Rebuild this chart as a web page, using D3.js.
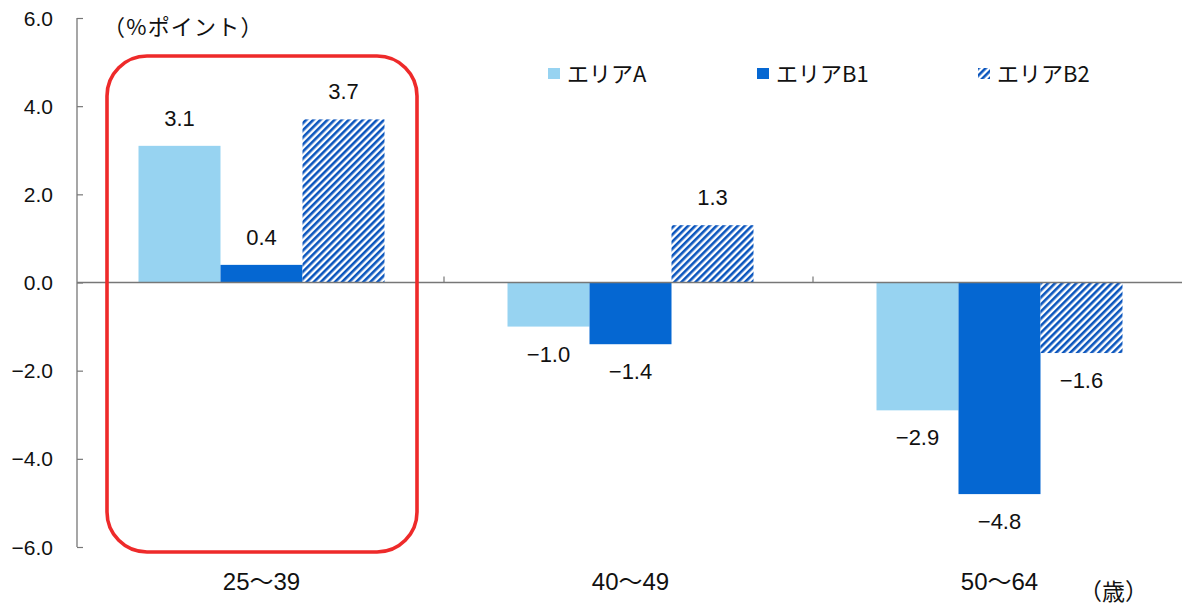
<!DOCTYPE html>
<html>
<head>
<meta charset="utf-8">
<script src="https://cdn.jsdelivr.net/npm/d3@7"></script>
<style>
  html, body { margin: 0; padding: 0; background: #fff; }
  svg { display: block; }
  text { font-family: "Liberation Sans", Arial, "Noto Sans CJK JP", sans-serif; fill: #111; }
  .jp { font-family: "Noto Sans CJK JP", sans-serif; }
</style>
</head>
<body>
<script>
// Age groups and the three areas' change (percentage points)
const categories = ["25～39", "40～49", "50～64"];
const seriesNames = ["エリアA", "エリアB1", "エリアB2"];
const areaA  = [3.1, -1.0, -2.9];
const areaB1 = [0.4, -1.4, -4.8];
const areaB2 = [3.7, 1.3, -1.6];
const yTicks = [-6, -4, -2, 0, 2, 4, 6];

const W = 1182, H = 609;
const svg = d3.select("body").append("svg").attr("width", W).attr("height", H);

const defs = svg.append("defs");
const hatch = defs.append("pattern")
  .attr("id", "hatchB2")
  .attr("patternUnits", "userSpaceOnUse")
  .attr("width", 5).attr("height", 5)
  .attr("patternTransform", "rotate(45)");
hatch.append("rect").attr("width", 5).attr("height", 5).attr("fill", "#fff");
hatch.append("rect").attr("x", 0).attr("y", 0).attr("width", 2.6).attr("height", 5).attr("fill", "#0a55bd");

const colors = ["#97d3f1", "#0567d2", "url(#hatchB2)"];
const seriesValues = [areaA, areaB1, areaB2];

const y = d3.scaleLinear().domain([-6, 6]).range([547, 18]);
const x = d3.scaleBand().domain(categories).range([77, 1184]).paddingInner(0).paddingOuter(0);
const xs = d3.scaleBand().domain(seriesNames).range([0, x.bandwidth()]).paddingInner(0).paddingOuter(0.75);

// y axis
const yAxis = d3.axisRight(y).tickValues(yTicks).tickSize(6).tickFormat("");
const yg = svg.append("g").attr("transform", "translate(77,0)").call(yAxis);
yg.select(".domain").attr("stroke", "#777").attr("stroke-width", 1.3).attr("d", `M0,${y(6)}V${y(-6)}`);
yg.selectAll(".tick line").attr("stroke", "#777").attr("stroke-width", 1.2);

svg.append("g").selectAll("text").data(yTicks).join("text")
  .attr("x", 53).attr("y", d => y(d)).attr("dy", "0.36em")
  .attr("text-anchor", "end").attr("font-size", 21)
  .text(d => d3.format(".1f")(d));

// bars
const rows = [];
categories.forEach((c, i) => {
  seriesNames.forEach((s, j) => rows.push({ c, s, j, v: seriesValues[j][i] }));
});

svg.append("g").selectAll("rect").data(rows).join("rect")
  .attr("x", d => x(d.c) + xs(d.s))
  .attr("width", xs.bandwidth())
  .attr("y", d => y(Math.max(0, d.v)))
  .attr("height", d => Math.abs(y(d.v) - y(0)))
  .attr("fill", d => colors[d.j]);

// zero baseline with category separators
svg.append("line").attr("x1", 77).attr("x2", W).attr("y1", y(0)).attr("y2", y(0))
  .attr("stroke", "#777").attr("stroke-width", 1.3);
svg.append("g").selectAll("line").data(categories.slice(1)).join("line")
  .attr("x1", d => x(d) - 2).attr("x2", d => x(d) - 2)
  .attr("y1", y(0)).attr("y2", y(0) - 6)
  .attr("stroke", "#777").attr("stroke-width", 1.2);

// value labels
const fmt = v => (v < 0 ? "−" : "") + d3.format(".1f")(Math.abs(v));
svg.append("g").selectAll("text").data(rows).join("text")
  .attr("x", d => x(d.c) + xs(d.s) + xs.bandwidth() / 2)
  .attr("y", d => d.v >= 0 ? y(d.v) - 28 : y(d.v) + 27)
  .attr("dy", "0.36em")
  .attr("text-anchor", "middle").attr("font-size", 22)
  .text(d => fmt(d.v));

// category labels
svg.append("g").selectAll("text").data(categories).join("text")
  .attr("x", d => x(d) + x.bandwidth() / 2)
  .attr("y", 581).attr("dy", "0.36em")
  .attr("text-anchor", "middle").attr("font-size", 24)
  .text(d => d);

// unit labels
svg.append("text").attr("class", "jp").attr("x", 103).attr("y", 27).attr("dy", "0.36em")
  .attr("font-size", 22).attr("letter-spacing", 1.2).text("（%ポイント）");
svg.append("text").attr("class", "jp").attr("x", 1079).attr("y", 592).attr("dy", "0.36em")
  .attr("font-size", 23).text("（歳）");

// highlight frame around the youngest group
svg.append("rect")
  .attr("x", 107).attr("y", 56).attr("width", 310).attr("height", 496)
  .attr("rx", 40).attr("ry", 40)
  .attr("fill", "none").attr("stroke", "#ee2a2a").attr("stroke-width", 3.6);

// legend
const legendX = [548, 757, 978];
const lg = svg.append("g").selectAll("g").data(seriesNames).join("g")
  .attr("transform", (d, i) => `translate(${legendX[i]},74)`);
lg.append("rect").attr("x", 0).attr("y", -6).attr("width", 12).attr("height", 11)
  .attr("fill", (d, i) => colors[i]);
lg.append("text").attr("class", "jp").attr("x", 19).attr("y", 0).attr("dy", "0.36em")
  .attr("font-size", 22).text(d => d);
</script>
</body>
</html>
